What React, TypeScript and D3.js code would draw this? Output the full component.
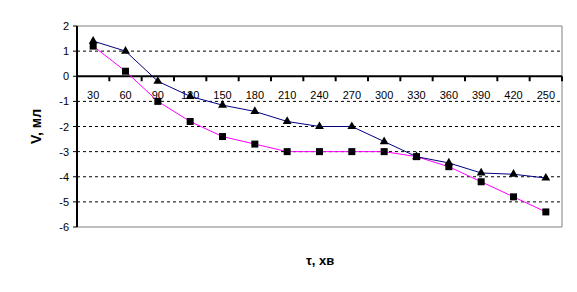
import React from "react";
import * as d3 from "d3";

const categories = ["30", "60", "90", "120", "150", "180", "210", "240", "270", "300", "330", "360", "390", "420", "250"];
const seriesTriangle = [1.4, 1.0, -0.2, -0.8, -1.15, -1.4, -1.8, -2.0, -2.0, -2.6, -3.2, -3.45, -3.85, -3.9, -4.05];
const seriesSquare = [1.2, 0.2, -1.0, -1.8, -2.4, -2.7, -3.0, -3.0, -3.0, -3.0, -3.2, -3.6, -4.2, -4.8, -5.4];
const yTicks = [2, 1, 0, -1, -2, -3, -4, -5, -6];

const W = 577, H = 292;
const left = 77, right = 562, top = 26, bottom = 227;

export default function App() {
  const x = d3.scaleBand<string>().domain(categories).range([left, right]).padding(0);
  const y = d3.scaleLinear().domain([-6, 2]).range([bottom, top]);
  const cx = (i: number) => (x(categories[i]) as number) + x.bandwidth() / 2;
  const line = d3.line<number>().x((_, i) => cx(i)).y((d) => y(d));
  const font = "'Liberation Sans', Arial, sans-serif";
  const tri = d3.symbol().type(d3.symbolTriangle).size(34)();
  return (
    <svg width={W} height={H} style={{ position: "absolute", left: 0, top: 0, background: "#fff" }}>
      <rect x={0} y={0} width={W} height={H} fill="#fff" />
      {yTicks.filter((t) => t !== 0 && t !== 2 && t !== -6).map((t) => (
        <line key={t} x1={left} x2={right} y1={y(t)} y2={y(t)} stroke="#000" strokeDasharray="3,3" strokeWidth={1} />
      ))}
      <line x1={left} x2={right} y1={y(2)} y2={y(2)} stroke="#808080" />
      <line x1={left} x2={right} y1={y(-6)} y2={y(-6)} stroke="#808080" />
      <line x1={right} x2={right} y1={y(2)} y2={y(-6)} stroke="#808080" />
      <line x1={left} x2={left} y1={y(2)} y2={y(-6)} stroke="#000" strokeWidth={2} />
      {yTicks.map((t) => (
        <g key={"yt" + t}>
          <line x1={left - 4} x2={left} y1={y(t)} y2={y(t)} stroke="#000" strokeWidth={1} />
          <text x={left - 8} y={y(t) + 4} fontSize={11} fontFamily={font} textAnchor="end">{t}</text>
        </g>
      ))}
      <line x1={left} x2={right} y1={y(0)} y2={y(0)} stroke="#000" strokeWidth={2} />
      {categories.map((c, i) => (
        <line key={"xt" + i} x1={(x(c) as number) + x.bandwidth()} x2={(x(c) as number) + x.bandwidth()} y1={y(0)} y2={y(0) + 5} stroke="#000" strokeWidth={2} />
      ))}
      {categories.map((c, i) => (
        <text key={"xl" + i} x={cx(i)} y={y(0) + 23} fontSize={11} fontFamily={font} textAnchor="middle">{c}</text>
      ))}
      <path d={line(seriesSquare) || ""} fill="none" stroke="#ff00ff" strokeWidth={1} />
      <path d={line(seriesTriangle) || ""} fill="none" stroke="#000080" strokeWidth={1} />
      {seriesSquare.map((v, i) => (
        <rect key={"s" + i} x={cx(i) - 3.5} y={y(v) - 3.5} width={7} height={7} fill="#000" />
      ))}
      {seriesTriangle.map((v, i) => (
        <path key={"t" + i} d={tri || ""} transform={`translate(${cx(i)},${y(v)})`} fill="#000" />
      ))}
      <text transform={`translate(41,${(top + bottom) / 2}) rotate(-90)`} fontSize={14} fontWeight="bold" fontFamily={font} textAnchor="middle">V, мл</text>
      <text x={320} y={265} fontSize={13} fontWeight="bold" fontFamily={font} textAnchor="middle">τ, хв</text>
    </svg>
  );
}
